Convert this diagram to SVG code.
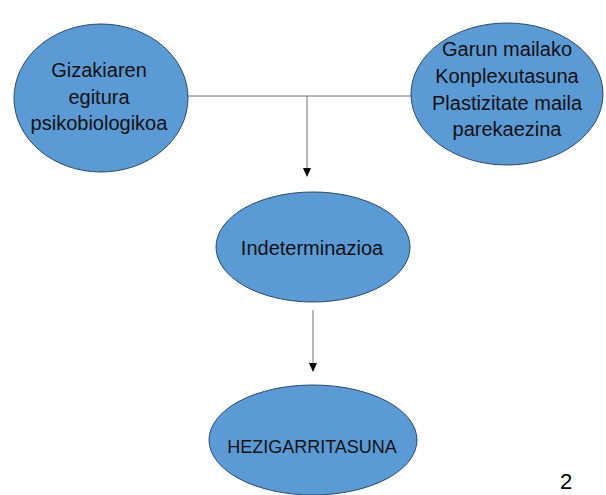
<svg xmlns="http://www.w3.org/2000/svg" width="606" height="495" viewBox="0 0 606 495">
<style>
.node{fill:#5b9bd5;stroke:#2a4a68;stroke-width:1}
.t{font-family:"Liberation Sans",Arial,sans-serif;font-size:20px;fill:#111;text-anchor:middle}
.line{stroke:#707070;stroke-width:1;fill:none}
.head{fill:#000}
</style>
<rect width="606" height="495" fill="#fff"/>
<g id="connectors">
<path class="line" d="M188,96 H411"/>
<path class="line" d="M307,96 V168"/>
<path class="head" d="M303,168 L311,168 L307,177 Z"/>
<path class="line" d="M313,310 V363"/>
<path class="head" d="M309,363 L317,363 L313,372 Z"/>
</g>
<g id="node1">
<ellipse class="node" cx="101" cy="98" rx="87" ry="74"/>
<text class="t" x="99" y="77">Gizakiaren</text>
<text class="t" x="99" y="103.5">egitura</text>
<text class="t" x="99" y="130">psikobiologikoa</text>
</g>
<g id="node2">
<ellipse class="node" cx="507" cy="94" rx="96" ry="71"/>
<text class="t" x="507" y="56">Garun mailako</text>
<text class="t" x="507" y="83">Konplexutasuna</text>
<text class="t" x="507" y="109.5">Plastizitate maila</text>
<text class="t" x="507" y="136">parekaezina</text>
</g>
<g id="node3">
<ellipse class="node" cx="313" cy="247" rx="97" ry="55"/>
<text class="t" x="312" y="255">Indeterminazioa</text>
</g>
<g id="node4">
<ellipse class="node" cx="313" cy="440" rx="104" ry="55"/>
<text class="t" x="312" y="453" style="font-size:18px">HEZIGARRITASUNA</text>
</g>
<text x="566" y="489" style="font-family:'Liberation Sans',Arial,sans-serif;font-size:22px;fill:#000;text-anchor:middle">2</text>
</svg>
